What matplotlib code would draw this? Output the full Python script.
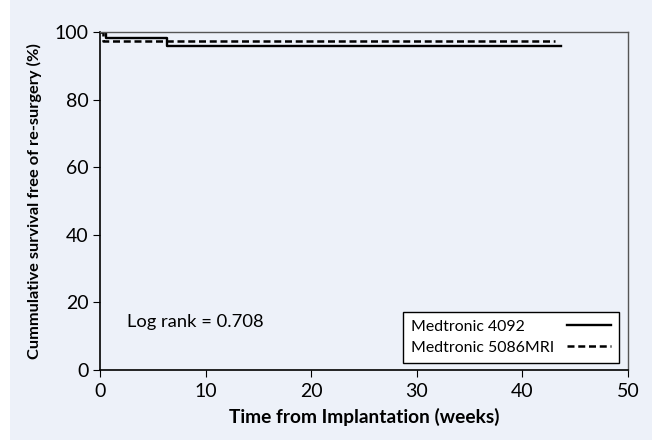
import numpy as np
import matplotlib.pyplot as plt
from matplotlib.patches import Rectangle

# Kaplan-Meier step data (weeks, % free of re-surgery)
t_4092 = [0, 0.6, 6.3, 43.7]
s_4092 = [100, 98.3, 95.8, 95.8]
t_5086 = [0, 0.3, 43.1]
s_5086 = [100, 97.3, 97.3]

bg = '#edf1f9'
plt.rcParams['font.family'] = ['Lato', 'DejaVu Sans']

fig = plt.figure(figsize=(6.52, 4.40), dpi=100)
fig.patch.set_facecolor('white')
fig.add_artist(Rectangle((10/652, 0), 1, 1, transform=fig.transFigure,
                         facecolor=bg, edgecolor='none', zorder=-10))

ax = fig.add_axes([100/652, 1-370/440, 528/652, 338/440])
ax.set_facecolor(bg)

ax.step(t_4092, s_4092, where='post', color='black', lw=1.7,
        label='Medtronic 4092')
ax.step(t_5086, s_5086, where='post', color='black', lw=1.8,
        linestyle=(0, (2.8, 1.5)), label='Medtronic 5086MRI')

ax.set_xlim(0, 50)
ax.set_ylim(0, 100)
ax.set_xticks([0, 10, 20, 30, 40, 50])
ax.set_yticks([0, 20, 40, 60, 80, 100])
ax.tick_params(direction='out', length=5, labelsize=14, colors='black')
ax.tick_params(axis='x', pad=4)
ax.tick_params(axis='y', pad=3)

for s in ['left', 'bottom']:
    ax.spines[s].set_color('black')
    ax.spines[s].set_linewidth(1.2)
for s in ['top', 'right']:
    ax.spines[s].set_color('#555555')
    ax.spines[s].set_linewidth(1.0)

ax.set_xlabel('Time from Implantation (weeks)', fontsize=13.8,
              fontweight='bold', labelpad=6)
ax.set_ylabel('Cummulative survival free of re-surgery (%)', fontsize=11.8,
              fontweight='bold', labelpad=9)

ax.text(0.051, 0.142, 'Log rank = 0.708', transform=ax.transAxes,
        fontsize=13.2, va='center')

leg = ax.legend(loc='lower right', bbox_to_anchor=(0.983, 0.021),
                borderaxespad=0, markerfirst=False, fancybox=False,
                framealpha=1, edgecolor='black', fontsize=11.4,
                handlelength=2.8, borderpad=0.5, labelspacing=0.45,
                handletextpad=0.8)
leg.get_frame().set_facecolor('white')
leg.get_frame().set_linewidth(1.0)

# left-align legend texts while keeping the handles on the right
fig.canvas.draw()
r = fig.canvas.get_renderer()
items = leg._legend_handle_box.get_children()[0].get_children()
widths = [t.get_window_extent(r).width for t in leg.get_texts()]
wmax = max(widths)
for it, w in zip(items, widths):
    it.sep = it.sep + (wmax - w) * 72 / fig.dpi

fig.savefig('out.png', dpi=100)
